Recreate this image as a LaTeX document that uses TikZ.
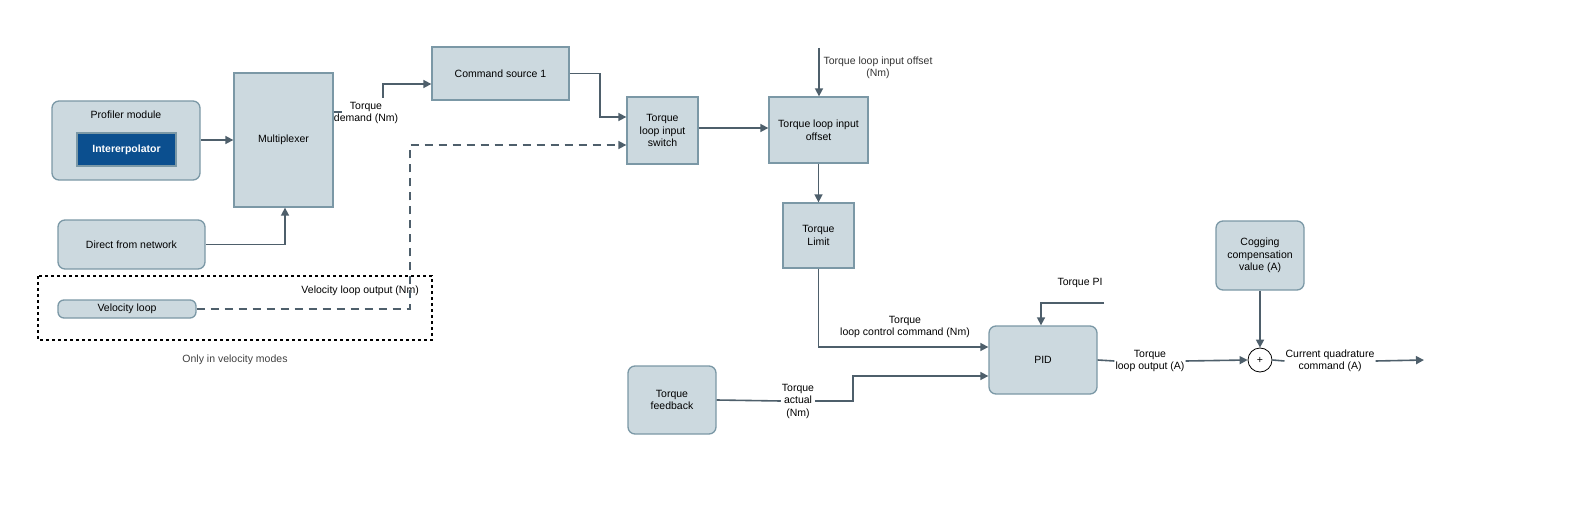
\documentclass[tikz,border=0pt]{standalone}
\usepackage{fontspec}
\setmainfont{Liberation Sans}
\usetikzlibrary{arrows.meta}
\definecolor{bfill}{HTML}{CCD9DF}
\definecolor{bdraw}{HTML}{7B98A6}
\definecolor{ln}{HTML}{4E5F6B}
\definecolor{ib}{HTML}{0B4F8F}
\begin{document}
\begin{tikzpicture}[x=1pt,y=-1pt,
  every node/.style={font=\fontsize{10.5}{12.5}\selectfont},
  blk/.style={draw=bdraw,fill=bfill,line width=1.3pt,align=center,inner sep=0pt},
  rblk/.style={blk,rounded corners=7pt},
  lbl/.style={align=center,inner sep=1pt},
  c/.style={draw=ln,line width=1.6pt},
  a/.style={c,-{Triangle[length=8pt,width=8pt]}}]
\useasboundingbox (0,0) rectangle (1579,508);
% boxes
\node[rblk,minimum width=148pt,minimum height=79pt] (prof) at (126,140.5) {};
\node[anchor=north] (proft) at (126,107) {Profiler module};
\node[draw=bdraw,fill=ib,line width=1.3pt,minimum width=99pt,minimum height=33pt,text=white,font=\fontsize{10.5}{12.5}\selectfont\bfseries] (interp) at (126.5,149.5) {Intererpolator};
\node[blk,minimum width=99pt,minimum height=134pt] (mux) at (283.5,140) {Multiplexer};
\node[rblk,minimum width=147pt,minimum height=49pt] (dnet) at (131.5,244.5) {Direct from network};
\draw[black,line width=1.6pt,dash pattern=on 3pt off 3pt] (38,276) rectangle (432,340);
\node[rblk,rounded corners=6pt,minimum width=138pt,minimum height=18pt] (vel) at (127,309) {Velocity loop};
\node[lbl,text=black!75] (only) at (235,360) {Only in velocity modes};
\node[lbl,anchor=east] (vlo) at (420,291) {Velocity loop output (Nm)};
\node[blk,minimum width=137pt,minimum height=53pt] (cmd) at (500.5,73.5) {Command source 1};
\node[blk,minimum width=71pt,minimum height=67pt] (sw) at (662.5,130.5) {Torque\\loop input\\switch};
\node[blk,minimum width=99pt,minimum height=66pt] (off) at (818.5,130) {Torque loop input\\offset};
\node[blk,minimum width=71pt,minimum height=65pt] (lim) at (818.5,235.5) {Torque\\Limit};
\node[rblk,minimum width=108pt,minimum height=68pt] (pid) at (1043,360) {PID};
\node[rblk,minimum width=88pt,minimum height=68pt] (tfb) at (672,400) {Torque\\feedback};
\node[rblk,minimum width=88pt,minimum height=69pt] (cog) at (1260,255.5) {Cogging\\compensation\\value (A)};
\node[draw=black,fill=white,circle,minimum size=24pt,inner sep=0pt,line width=0.8pt] (sum) at (1260,360) {+};
% labels
\node[lbl] (tdem) at (366,113) {Torque\\demand (Nm)};
\node[lbl,text=black!80] (tlio) at (878,68) {Torque loop input offset\\(Nm)};
\node[lbl] (tlcc) at (905,327) {Torque\\loop control command (Nm)};
\node[lbl] (tact) at (798,401) {Torque\\actual\\(Nm)};
\node[lbl] (tpi) at (1080,283) {Torque PI};
\node[lbl] (tlo) at (1150,361) {Torque\\loop output (A)};
\node[lbl] (cqc) at (1330,361) {Current quadrature\\command (A)};
\coordinate (tlioS) at (819,48);
\coordinate (tpiS) at (1104,303);
\coordinate (outE) at (1424,360);
% connectors
\draw[a] (prof.east |- 0,140) -- (mux.west |- 0,140);
\draw[a] (dnet.east) -| (mux.south -| 285,0);
\draw[c] (mux.east |- 0,112) -- (342,112);
\draw[a] (383,98) |- (cmd.west |- 0,84);
\draw[a] (cmd.east) -| (600,117) -- (sw.west |- 0,117);
\draw[a,dash pattern=on 8pt off 6pt] (vel.east) -| (410,145) -- (sw.west |- 0,145);
\draw[a] (sw.east |- 0,128) -- (off.west |- 0,128);
\draw[a] (tlioS) -- (off.north -| tlioS);
\draw[a] (off.south) -- (lim.north);
\draw[a] (lim.south) |- (pid.west |- 0,347);
\draw[c] (tfb.east) -- (tact.west);
\draw[a] (tact.east) -- (853,401) |- (pid.west |- 0,376);
\draw[a] (tpiS) -| (pid.north -| 1041,0);
\draw[c] (pid.east) -- (tlo.west);
\draw[a] (tlo.east) -- (sum.west);
\draw[a] (cog.south) -- (sum.north);
\draw[c] (sum.east) -- (cqc.west);
\draw[a] (cqc.east) -- (outE);
\end{tikzpicture}
\end{document}
